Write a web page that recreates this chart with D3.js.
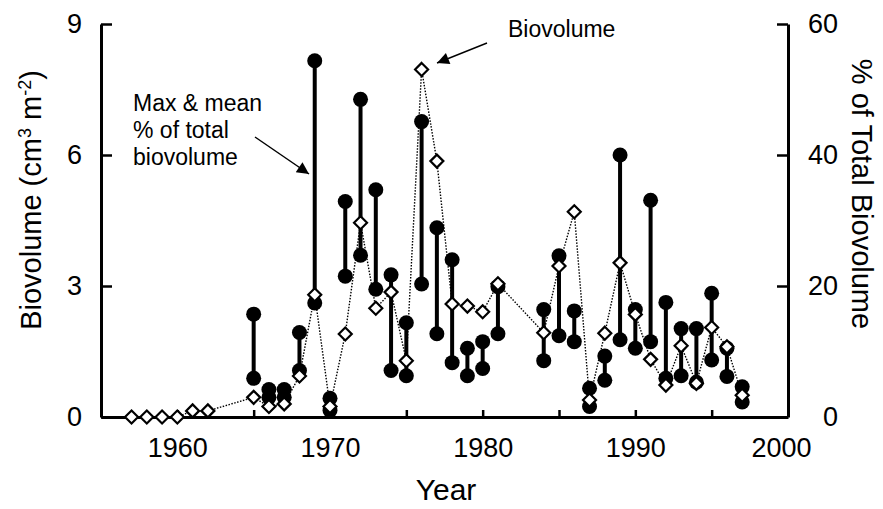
<!DOCTYPE html>
<html lang="en">
<head>
    <meta charset="UTF-8">
    <title>Biovolume</title>
    <script src="https://cdn.jsdelivr.net/npm/d3@7"></script>
    <style>
        body { margin: 0; background: #fff; }
        text { font-family: "Liberation Sans", Arial, sans-serif; fill: #000; }
    </style>
</head>
<body>
<script>
    // biovolume (cm3 m-2), left axis
    var bioYears = [1957, 1958, 1959, 1960, 1961, 1962,
        1965, 1966, 1967, 1968, 1969, 1970, 1971, 1972, 1973, 1974, 1975, 1976, 1977, 1978, 1979, 1980, 1981,
        1984, 1985, 1986, 1987, 1988, 1989, 1990, 1991, 1992, 1993, 1994, 1995, 1996, 1997];
    var biovolume = [0, 0, 0, 0, 0.14, 0.14,
        0.45, 0.24, 0.3, 0.94, 2.8, 0.24, 1.9, 4.45, 2.49, 2.86, 1.29, 7.96, 5.86, 2.59, 2.54, 2.41, 3.05,
        1.93, 3.46, 4.7, 0.39, 1.92, 3.53, 2.35, 1.32, 0.73, 1.63, 0.77, 2.05, 1.61, 0.5];

    // max & mean % of total biovolume, right axis
    var pctYears = [1965, 1966, 1967, 1968, 1969, 1970, 1971, 1972, 1973, 1974, 1975, 1976, 1977, 1978, 1979, 1980, 1981,
        1984, 1985, 1986, 1987, 1988, 1989, 1990, 1991, 1992, 1993, 1994, 1995, 1996, 1997];
    var pctMax = [15.7, 4.2, 4.2, 12.9, 54.4, 2.85, 32.9, 48.5, 34.7, 21.7, 14.4, 45.1, 28.9, 24.0, 10.5, 11.5, 19.9,
        16.4, 24.6, 16.2, 4.4, 9.3, 40.0, 16.4, 33.1, 17.5, 13.5, 13.5, 18.9, 10.5, 4.6];
    var pctMean = [5.9, 3.0, 3.0, 7.1, 17.4, 1.0, 21.5, 24.7, 19.5, 7.1, 6.3, 20.3, 12.7, 8.3, 6.3, 7.4, 12.7,
        8.6, 12.4, 11.5, 1.6, 5.6, 11.8, 10.5, 11.5, 5.9, 6.3, 5.3, 8.7, 6.2, 2.3];

    var xTicks = [1960, 1965, 1970, 1975, 1980, 1985, 1990, 1995, 2000];
    var leftTicks = [0, 3, 6, 9];
    var rightTicks = [0, 20, 40, 60];

    var width = 883, height = 509;

    var x = d3.scaleLinear().domain([1955, 2000]).range([101, 788]);
    var yL = d3.scaleLinear().domain([0, 9]).range([417, 24]);
    var yR = d3.scaleLinear().domain([0, 60]).range([417, 24]);

    var svg = d3.select("body").append("svg")
        .attr("width", width)
        .attr("height", height);

    svg.append("defs").append("marker")
        .attr("id", "arrow")
        .attr("viewBox", "0 -5 10 10")
        .attr("refX", 10)
        .attr("refY", 0)
        .attr("markerUnits", "userSpaceOnUse")
        .attr("markerWidth", 17)
        .attr("markerHeight", 12)
        .attr("orient", "auto")
        .append("path")
        .attr("d", "M0,-5L10,0L0,5Z")
        .attr("fill", "#000");

    // axes
    var bottom = svg.append("g")
        .attr("transform", "translate(0,417)")
        .call(d3.axisBottom(x).tickValues(xTicks).tickSize(-7).tickSizeOuter(0).tickPadding(21)
            .tickFormat(function (d) { return d % 10 == 0 ? d : ""; }));
    // the 2000 label sits a little left of the right axis in the original
    bottom.selectAll(".tick text").filter(function (d) { return d == 2000; }).attr("dx", -7);

    var left = svg.append("g")
        .attr("transform", "translate(101,0)")
        .call(d3.axisLeft(yL).tickValues(leftTicks).tickSize(-11).tickSizeOuter(0).tickPadding(19));

    var right = svg.append("g")
        .attr("transform", "translate(788,0)")
        .call(d3.axisRight(yR).tickValues(rightTicks).tickSize(-11).tickSizeOuter(0));
    right.selectAll(".tick text").attr("x", 50).attr("text-anchor", "end");

    [bottom, left, right].forEach(function (g) {
        g.select(".domain").attr("stroke-width", 3).attr("stroke", "#000");
        g.selectAll(".tick line").attr("stroke-width", 2.5).attr("stroke", "#000");
        g.selectAll(".tick text").style("font-size", "27px").attr("font-family", null);
    });

    // dotted biovolume line
    var bio = bioYears.map(function (y, i) { return {year: y, v: biovolume[i]}; });
    svg.append("path")
        .datum(bio)
        .attr("fill", "none")
        .attr("stroke", "#000")
        .attr("stroke-width", 1.4)
        .attr("stroke-dasharray", "1.5,1.5")
        .attr("d", d3.line()
            .x(function (d) { return x(d.year); })
            .y(function (d) { return yL(d.v); }));

    // max-mean bars
    var pct = pctYears.map(function (y, i) { return {year: y, max: pctMax[i], mean: pctMean[i]}; });
    svg.append("g").selectAll("line")
        .data(pct)
        .enter().append("line")
        .attr("x1", function (d) { return x(d.year); })
        .attr("x2", function (d) { return x(d.year); })
        .attr("y1", function (d) { return yR(d.max); })
        .attr("y2", function (d) { return yR(d.mean); })
        .attr("stroke", "#000")
        .attr("stroke-width", 4);

    var dots = [];
    pct.forEach(function (d) {
        dots.push({year: d.year, p: d.max});
        dots.push({year: d.year, p: d.mean});
    });
    svg.append("g").selectAll("circle")
        .data(dots)
        .enter().append("circle")
        .attr("cx", function (d) { return x(d.year); })
        .attr("cy", function (d) { return yR(d.p); })
        .attr("r", 7.5)
        .attr("fill", "#000");

    // diamonds
    svg.append("g").selectAll("path")
        .data(bio)
        .enter().append("path")
        .attr("transform", function (d) { return "translate(" + x(d.year) + "," + yL(d.v) + ")"; })
        .attr("d", "M0,-6.5L6.5,0L0,6.5L-6.5,0Z")
        .attr("fill", "#fff")
        .attr("stroke", "#000")
        .attr("stroke-width", 2.2);

    // axis titles
    svg.append("text")
        .attr("transform", "translate(446,500)")
        .attr("text-anchor", "middle")
        .style("font-size", "30px")
        .text("Year");

    var lt = svg.append("text")
        .attr("transform", "translate(41,200) rotate(-90)")
        .attr("text-anchor", "middle")
        .style("font-size", "29px");
    lt.append("tspan").text("Biovolume (cm");
    lt.append("tspan").attr("dy", -10).style("font-size", "18px").text("3");
    lt.append("tspan").attr("dy", 10).text(" m");
    lt.append("tspan").attr("dy", -10).style("font-size", "18px").text("-2");
    lt.append("tspan").attr("dy", 10).text(")");

    svg.append("text")
        .attr("transform", "translate(852,194) rotate(90)")
        .attr("text-anchor", "middle")
        .style("font-size", "29px")
        .text("% of Total Biovolume");

    // annotations
    var note = svg.append("text").style("font-size", "23px");
    ["Max & mean", "% of total", "biovolume"].forEach(function (s, i) {
        note.append("tspan").attr("x", 133).attr("y", 111 + i * 27).text(s);
    });
    svg.append("line")
        .attr("x1", 255).attr("y1", 137).attr("x2", 309).attr("y2", 174)
        .attr("stroke", "#000").attr("stroke-width", 1.5)
        .attr("marker-end", "url(#arrow)");

    svg.append("text")
        .attr("x", 508).attr("y", 37)
        .style("font-size", "23px")
        .text("Biovolume");
    svg.append("line")
        .attr("x1", 487).attr("y1", 43).attr("x2", 437).attr("y2", 63)
        .attr("stroke", "#000").attr("stroke-width", 1.5)
        .attr("marker-end", "url(#arrow)");
</script>
</body>
</html>
